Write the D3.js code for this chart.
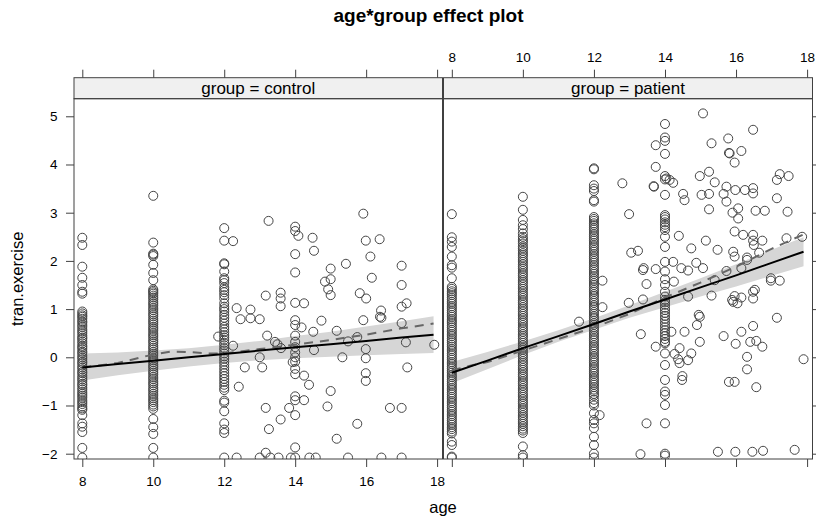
<!DOCTYPE html>
<html>
<head>
<meta charset="utf-8">
<script src="https://cdn.jsdelivr.net/npm/d3@7"></script>
<style>
  body { margin: 0; background: #fff; }
  svg text { fill: #000; }
</style>
</head>
<body>
<svg id="chart" width="816" height="523"></svg>
<script>
// ---------------------------------------------------------------
// Exercise (transformed) against age, by group, with model effect
// ---------------------------------------------------------------

const groups = ["control", "patient"];
const ageTicks = [8, 10, 12, 14, 16, 18];
const valueTicks = [-2, -1, 0, 1, 2, 3, 4, 5];

// control group: observations at the scheduled ages 8, 10 and 12
const controlAge8 = [2.48, 2.33, 1.88, 1.65, 1.5, 1.36, 1.32, 0.95, 0.91, 0.87, 0.84, 0.8, 0.75, 0.72, 0.67, 0.63,
  0.58, 0.54, 0.5, 0.45, 0.41, 0.38, 0.33, 0.29, 0.24, 0.21, 0.17, 0.12, 0.09, 0.04, 0.0, -0.04, -0.09, -0.12,
  -0.17, -0.21, -0.25, -0.3, -0.33, -0.38, -0.42, -0.46, -0.5, -0.55, -0.58, -0.63, -0.67, -0.72, -0.76, -0.8,
  -0.84, -0.89, -0.93, -0.97, -1.02, -1.06, -1.09, -1.2, -1.37, -1.44, -1.55, -1.88, -2.08];
const controlAge10 = [3.35, 2.38, 2.15, 2.13, 2.1, 1.92, 1.75, 1.6, 1.41, 1.38, 1.35, 1.32, 1.28, 1.24, 1.2, 1.15,
  1.11, 1.07, 1.02, 0.98, 0.93, 0.89, 0.85, 0.8, 0.76, 0.72, 0.68, 0.63, 0.59, 0.55, 0.5, 0.46, 0.42, 0.37, 0.33,
  0.29, 0.24, 0.2, 0.16, 0.11, 0.07, 0.03, -0.02, -0.06, -0.1, -0.15, -0.19, -0.23, -0.28, -0.32, -0.36, -0.41,
  -0.45, -0.5, -0.54, -0.58, -0.63, -0.67, -0.71, -0.76, -0.8, -0.85, -0.89, -0.93, -0.98, -1.02, -1.07, -1.28,
  -1.45, -1.59, -1.88, -2.08];
const controlAge12 = [2.68, 2.42, 1.95, 1.93, 1.78, 1.64, 1.6, 1.54, 1.45, 1.4, 1.35, 1.29, 1.22, 1.12, 1.05, 1.0,
  0.95, 0.88, 0.82, 0.76, 0.7, 0.63, 0.58, 0.52, 0.46, 0.41, 0.36, 0.3, 0.25, 0.19, 0.14, 0.08, 0.02, -0.03,
  -0.09, -0.15, -0.21, -0.27, -0.33, -0.39, -0.45, -0.51, -0.57, -0.63, -0.68, -0.9, -0.94, -1.12, -1.37, -1.5,
  -1.57, -2.08];
// control group: final interviews at individual ages [age, value]
const controlLater = [[12.25, 2.41], [13.25, 2.83], [14.0, 2.71], [14.0, 2.62], [14.09, 2.52], [14.49, 2.48],
  [14.53, 2.21], [14.0, 2.14], [14.0, 1.76], [15.92, 2.98], [15.99, 2.42], [16.38, 2.45], [16.12, 2.09],
  [16.16, 1.65], [15.43, 1.94], [15.0, 1.84], [15.0, 1.62], [14.84, 1.57], [14.93, 1.41], [15.0, 1.29],
  [17.0, 1.9], [17.0, 1.5], [13.17, 1.28], [13.59, 1.34], [13.59, 1.22], [13.59, 1.06], [15.82, 1.33],
  [16.0, 1.22], [14.0, 1.13], [14.25, 1.12], [12.35, 1.02], [12.74, 0.99], [12.46, 0.79], [12.74, 0.81],
  [13.0, 0.79], [14.0, 0.77], [14.0, 0.67], [14.18, 0.62], [14.74, 0.76], [14.51, 0.53], [15.17, 0.55],
  [13.21, 0.45], [13.43, 0.32], [13.5, 0.27], [13.6, 0.19], [14.0, 0.45], [14.0, 0.32], [14.0, 0.21],
  [14.0, 0.1], [14.0, 0.0], [14.53, 0.15], [15.49, 0.33], [15.75, 0.42], [15.92, 0.77], [15.99, 0.17],
  [15.99, -0.02], [15.99, -0.33], [15.99, -0.49], [16.39, 0.84], [16.43, 0.82], [16.42, 0.97], [17.0, 1.05],
  [17.0, 0.71], [17.14, 1.12], [17.12, 0.31], [17.16, -0.21], [17.92, 0.26], [12.25, 0.24], [11.83, 0.43],
  [13.0, 0.0], [12.58, -0.21], [13.07, -0.21], [12.41, -0.61], [15.33, 0.0], [14.25, -0.38], [14.39, -0.57],
  [14.0, -0.09], [13.93, -0.1], [14.0, -0.24], [14.0, -0.35], [15.0, -0.7], [14.0, -0.81], [14.0, -0.89],
  [14.25, -0.89], [13.17, -1.05], [13.83, -1.05], [14.0, -1.2], [14.91, -1.02], [13.59, -1.29], [13.26, -1.49],
  [15.17, -1.69], [14.0, -1.87], [15.75, -1.38], [16.67, -1.05], [17.0, -1.05], [13.17, -1.98],
  [12.35, -2.08], [13.0, -2.08], [13.3, -2.08], [13.53, -2.08], [13.88, -2.08], [14.0, -2.08], [14.4, -2.08],
  [14.58, -2.08], [15.49, -2.08], [16.43, -2.08], [17.0, -2.08]];

// patient group: observations at the scheduled ages 8, 10 and 12
const patientAge8 = [2.97, 2.49, 2.4, 2.29, 2.09, 1.91, 1.86, 1.64, 1.46, 1.42, 1.37, 1.33, 1.29, 1.24, 1.2, 1.15,
  1.11, 1.06, 1.02, 0.97, 0.93, 0.88, 0.84, 0.79, 0.75, 0.71, 0.66, 0.62, 0.57, 0.53, 0.48, 0.44, 0.39, 0.35,
  0.31, 0.26, 0.22, 0.17, 0.13, 0.08, 0.04, -0.01, -0.05, -0.1, -0.14, -0.19, -0.23, -0.28, -0.32, -0.37, -0.41,
  -0.46, -0.5, -0.55, -0.59, -0.64, -0.68, -0.73, -0.77, -0.82, -0.86, -0.91, -0.95, -1.0, -1.04, -1.09, -1.13,
  -1.18, -1.22, -1.27, -1.31, -1.36, -1.4, -1.45, -1.49, -1.54, -1.58, -1.75, -1.82, -2.06, -2.08];
const patientAge10 = [3.33, 3.06, 2.85, 2.74, 2.66, 2.57, 2.5, 2.45, 2.41, 2.36, 2.3, 2.26, 2.21, 2.16, 2.12, 2.07,
  2.02, 1.98, 1.93, 1.88, 1.84, 1.79, 1.74, 1.7, 1.65, 1.6, 1.56, 1.51, 1.46, 1.42, 1.37, 1.32, 1.28, 1.23, 1.18,
  1.14, 1.09, 1.04, 1.0, 0.95, 0.9, 0.86, 0.81, 0.76, 0.72, 0.67, 0.62, 0.58, 0.53, 0.48, 0.44, 0.39, 0.34, 0.3,
  0.25, 0.2, 0.16, 0.11, 0.06, 0.02, -0.03, -0.08, -0.12, -0.17, -0.22, -0.26, -0.31, -0.36, -0.4, -0.45, -0.5,
  -0.54, -0.59, -0.64, -0.68, -0.73, -0.78, -0.82, -0.87, -0.92, -0.96, -1.01, -1.06, -1.1, -1.15, -1.2, -1.24,
  -1.29, -1.34, -1.38, -1.43, -1.48, -1.52, -1.57, -1.85, -2.03, -2.08];
const patientAge12 = [3.92, 3.9, 3.57, 3.5, 3.45, 3.26, 3.23, 2.91, 2.87, 2.83, 2.78, 2.74, 2.69, 2.65, 2.6, 2.55,
  2.51, 2.46, 2.42, 2.37, 2.32, 2.28, 2.23, 2.19, 2.14, 2.09, 2.05, 2.0, 1.96, 1.91, 1.86, 1.82, 1.77, 1.73, 1.68,
  1.63, 1.59, 1.54, 1.5, 1.45, 1.4, 1.36, 1.31, 1.27, 1.22, 1.17, 1.13, 1.08, 1.04, 0.99, 0.94, 0.9, 0.85, 0.81,
  0.76, 0.71, 0.67, 0.62, 0.58, 0.53, 0.48, 0.44, 0.39, 0.35, 0.3, 0.25, 0.21, 0.16, 0.12, 0.07, 0.02, -0.02,
  -0.07, -0.11, -0.16, -0.21, -0.25, -0.3, -0.34, -0.39, -0.44, -0.48, -0.53, -0.57, -0.62, -0.67, -0.71, -0.76,
  -0.8, -0.88, -0.95, -1.0, -1.16, -1.3, -1.37, -1.47, -1.65, -1.82, -2.0, -2.08];
// patient group: final interviews at individual ages [age, value]
const patientLater = [[14.0, 4.84], [14.0, 4.56], [14.0, 4.49], [14.0, 4.22], [14.0, 3.76], [14.0, 3.69],
  [14.0, 3.37], [14.0, 2.95], [14.0, 2.91], [14.0, 2.86], [14.0, 2.8], [14.0, 2.75], [14.0, 2.7], [14.0, 2.64],
  [14.0, 2.5], [14.0, 2.29], [14.0, 1.98], [14.0, 1.78], [14.0, 1.62], [14.0, 1.5], [14.0, 1.36], [14.0, 1.26],
  [14.0, 1.19], [14.0, 1.14], [14.0, 1.09], [14.0, 1.03], [14.0, 0.98], [14.0, 0.92], [14.0, 0.86], [14.0, 0.8],
  [14.0, 0.74], [14.0, 0.68], [14.0, 0.62], [14.0, 0.56], [14.0, 0.5], [14.0, 0.44], [14.0, 0.38], [14.0, 0.32],
  [14.0, 0.29], [14.0, 0.08], [14.0, -0.16], [14.0, -0.47], [14.0, -0.71], [14.0, -0.78], [14.0, -0.99],
  [14.0, -1.37], [14.0, -2.0], [14.0, -2.04],
  [12.8, 3.61], [12.99, 2.97], [13.69, 3.54], [13.74, 4.4], [13.74, 3.95], [15.07, 5.06], [15.31, 4.44],
  [15.78, 4.54], [15.8, 4.24], [16.15, 4.28], [15.96, 4.04], [15.82, 4.23], [16.48, 4.72], [14.98, 3.76],
  [15.24, 3.85], [15.4, 3.63], [15.73, 3.54], [15.98, 3.47], [16.25, 3.47], [16.48, 3.51], [16.48, 3.4],
  [15.65, 3.39], [15.73, 3.23], [15.03, 3.37], [15.24, 3.39], [15.24, 3.07], [15.9, 3.0], [16.06, 3.09],
  [16.06, 2.88], [16.55, 3.04], [16.81, 3.04], [17.15, 3.68], [17.23, 3.8], [17.48, 3.76], [17.15, 3.3],
  [17.45, 3.02], [14.23, 3.62], [14.13, 3.68], [14.04, 3.71], [14.51, 3.39], [14.55, 3.26], [12.24, 1.59],
  [13.05, 2.17], [13.24, 2.21], [13.38, 1.81], [13.74, 1.83], [13.48, 1.52], [12.98, 1.13], [13.38, 1.2],
  [13.32, 0.48], [11.58, 0.74], [12.24, 1.04], [14.39, 2.52], [14.74, 2.26], [14.23, 1.98], [14.46, 1.85],
  [14.65, 1.8], [14.25, 1.57], [14.65, 1.26], [15.15, 2.42], [15.07, 1.85], [14.88, 1.96], [15.48, 2.23],
  [15.96, 2.61], [16.2, 2.54], [16.48, 2.54], [16.48, 2.42], [16.5, 2.33], [16.74, 2.42], [15.92, 2.19],
  [15.96, 2.09], [16.31, 2.07], [16.31, 2.02], [16.65, 2.17], [16.15, 1.85], [15.73, 1.79], [15.4, 1.6],
  [15.31, 1.28], [16.98, 1.64], [16.98, 1.59], [17.23, 1.59], [17.42, 2.47], [17.86, 2.5], [15.89, 1.19],
  [15.92, 1.15], [15.96, 1.27], [16.15, 1.24], [16.04, 1.12], [16.48, 1.36], [16.53, 1.4], [16.48, 1.22],
  [17.15, 0.82], [14.95, 0.88], [14.98, 0.84], [14.9, 0.67], [14.55, 0.53], [14.98, 0.32], [14.18, 0.53],
  [14.41, 0.19], [14.74, 0.08], [14.27, 0.07], [14.37, -0.04], [14.41, -0.12], [14.65, -0.06], [14.49, -0.39],
  [14.48, -0.47], [13.74, 0.22], [15.65, 0.44], [15.99, 0.28], [16.15, 0.53], [16.48, 0.65], [16.4, 0.32],
  [16.57, 0.34], [16.74, 0.22], [16.31, 0.01], [16.31, -0.25], [17.9, -0.04], [15.8, -0.51], [15.96, -0.51],
  [16.57, -0.62], [12.16, -1.2], [13.48, -1.37], [13.31, -2.01], [15.49, -1.96], [15.98, -1.96], [16.46, -1.96],
  [16.76, -1.94], [17.65, -1.92], [13.4, 1.85], [13.68, 3.55]];

// fitted effect with 95% band, evaluated along age
const fitAges = [8, 9, 10, 11, 12, 13, 14, 15, 16, 17, 17.9];
const controlFit   = [-0.21, -0.14, -0.07, 0.0, 0.07, 0.14, 0.21, 0.27, 0.34, 0.41, 0.47];
const controlLower = [-0.48, -0.37, -0.28, -0.19, -0.12, -0.06, -0.02, 0.01, 0.04, 0.07, 0.09];
const controlUpper = [0.08, 0.1, 0.14, 0.19, 0.26, 0.34, 0.44, 0.53, 0.64, 0.75, 0.85];
const patientFit   = [-0.32, -0.07, 0.19, 0.44, 0.69, 0.95, 1.2, 1.45, 1.7, 1.96, 2.19];
const patientLower = [-0.54, -0.25, 0.05, 0.32, 0.57, 0.82, 1.04, 1.26, 1.47, 1.69, 1.89];
const patientUpper = [-0.1, 0.11, 0.33, 0.56, 0.81, 1.08, 1.36, 1.64, 1.93, 2.23, 2.49];

// smoothed partial residuals
const controlSmoothAges = [8, 9, 9.5, 10, 10.5, 11, 11.5, 12, 13, 14, 15, 16, 17, 17.9];
const controlSmooth     = [-0.21, -0.12, -0.03, 0.06, 0.12, 0.11, 0.08, 0.08, 0.17, 0.26, 0.36, 0.47, 0.6, 0.7];
const patientSmoothAges = [8, 8.6, 9, 10, 11, 12, 13, 14, 15, 16, 17, 17.9];
const patientSmooth     = [-0.27, -0.16, -0.1, 0.14, 0.38, 0.62, 0.9, 1.24, 1.55, 1.88, 2.25, 2.55];

// ---------------------------------------------------------------
const FONT = "'Liberation Sans', Arial, Helvetica, sans-serif";
const svg = d3.select("#chart").attr("font-family", FONT);

const stripTop = 77.7, panelTop = 98.7, panelBottom = 459;
const tickLen = 8;
const frameColor = "#404040";

const y = d3.scaleLinear().domain([-2.11, 5.365]).range([panelBottom, panelTop]);

function toPoints(age, values) { return values.map(v => [age, v]); }

const panels = [
  {
    group: groups[0], x0: 74, x1: 442.5,
    points: [].concat(toPoints(8, controlAge8), toPoints(10, controlAge10), toPoints(12, controlAge12), controlLater),
    fit: controlFit, lower: controlLower, upper: controlUpper,
    smoothAges: controlSmoothAges, smooth: controlSmooth,
    top: false, bottom: true, left: true, right: false
  },
  {
    group: groups[1], x0: 443.5, x1: 812.5,
    points: [].concat(toPoints(8, patientAge8), toPoints(10, patientAge10), toPoints(12, patientAge12), patientLater),
    fit: patientFit, lower: patientLower, upper: patientUpper,
    smoothAges: patientSmoothAges, smooth: patientSmooth,
    top: true, bottom: false, left: false, right: true
  }
];

const defs = svg.append("defs");

panels.forEach((p, i) => {
  const x = d3.scaleLinear().domain([7.766, 18.152]).range([p.x0, p.x1]);
  const clipId = "clip" + i;
  defs.append("clipPath").attr("id", clipId)
    .append("rect").attr("x", p.x0).attr("y", panelTop)
    .attr("width", p.x1 - p.x0).attr("height", panelBottom - panelTop);

  const g = svg.append("g").attr("clip-path", `url(#${clipId})`);

  // confidence band
  const band = fitAges.map((a, k) => ({ a, lo: p.lower[k], hi: p.upper[k] }));
  g.append("path").datum(band)
    .attr("d", d3.area().x(d => x(d.a)).y0(d => y(d.lo)).y1(d => y(d.hi)))
    .attr("fill", "#d6d6d6").attr("stroke", "none");

  // observations
  g.append("g").selectAll("circle").data(p.points).join("circle")
    .attr("cx", d => x(d[0])).attr("cy", d => y(d[1])).attr("r", 4.5)
    .attr("fill", "none").attr("stroke", "#454545").attr("stroke-width", 1);

  // smoothed residual trend
  g.append("path").datum(p.smoothAges.map((a, k) => [a, p.smooth[k]]))
    .attr("d", d3.line().x(d => x(d[0])).y(d => y(d[1])))
    .attr("fill", "none").attr("stroke", "#666").attr("stroke-width", 2)
    .attr("stroke-dasharray", "9,7");

  // fitted effect
  g.append("path").datum(fitAges.map((a, k) => [a, p.fit[k]]))
    .attr("d", d3.line().x(d => x(d[0])).y(d => y(d[1])))
    .attr("fill", "none").attr("stroke", "#000").attr("stroke-width", 2);

  // strip
  svg.append("rect").attr("x", p.x0).attr("y", stripTop)
    .attr("width", p.x1 - p.x0).attr("height", panelTop - stripTop)
    .attr("fill", "#f0f0f0").attr("stroke", frameColor).attr("stroke-width", 1);
  svg.append("text").attr("x", (p.x0 + p.x1) / 2).attr("y", 94.3)
    .attr("text-anchor", "middle").attr("font-size", "17px")
    .text(`group = ${p.group}`);

  // panel frame
  svg.append("rect").attr("x", p.x0).attr("y", panelTop)
    .attr("width", p.x1 - p.x0).attr("height", panelBottom - panelTop)
    .attr("fill", "none").attr("stroke", frameColor).attr("stroke-width", 1);

  // axes
  const styleAxis = (sel, showLabels) => {
    sel.attr("font-size", null).attr("font-family", null);
    sel.select(".domain").remove();
    sel.selectAll(".tick line").attr("stroke", frameColor);
    sel.selectAll(".tick text").style("font-size", "13.5px").style("font-family", FONT)
      .attr("fill", "#000").style("display", showLabels ? null : "none");
  };
  const fmt = d => d < 0 ? "\u2212" + Math.abs(d) : String(d);

  svg.append("g").attr("transform", `translate(0,${panelBottom})`)
    .call(d3.axisBottom(x).tickValues(ageTicks).tickSize(tickLen).tickPadding(9.5).tickFormat(fmt))
    .call(s => styleAxis(s, p.bottom));
  svg.append("g").attr("transform", `translate(0,${stripTop})`)
    .call(d3.axisTop(x).tickValues(ageTicks).tickSize(tickLen).tickPadding(7.5).tickFormat(fmt))
    .call(s => styleAxis(s, p.top));
  if (p.left) {
    svg.append("g").attr("transform", `translate(${p.x0},0)`)
      .call(d3.axisLeft(y).tickValues(valueTicks).tickSize(tickLen).tickPadding(8.5).tickFormat(fmt))
      .call(s => styleAxis(s, true));
  }
  if (p.right) {
    svg.append("g").attr("transform", `translate(${p.x1},0)`)
      .call(d3.axisRight(y).tickValues(valueTicks).tickSize(tickLen).tickPadding(8.5).tickFormat(fmt))
      .call(s => styleAxis(s, false));
  }
});

// title and axis labels
svg.append("text").attr("x", 428.5).attr("y", 22)
  .attr("text-anchor", "middle").attr("font-size", "19px").attr("font-weight", "bold")
  .text("age*group effect plot");
svg.append("text").attr("x", 443).attr("y", 513)
  .attr("text-anchor", "middle").attr("font-size", "16.5px").text("age");
svg.append("text").attr("transform", `translate(23,${(panelTop + panelBottom) / 2}) rotate(-90)`)
  .attr("text-anchor", "middle").attr("font-size", "16.5px").text("tran.exercise");
</script>
</body>
</html>
